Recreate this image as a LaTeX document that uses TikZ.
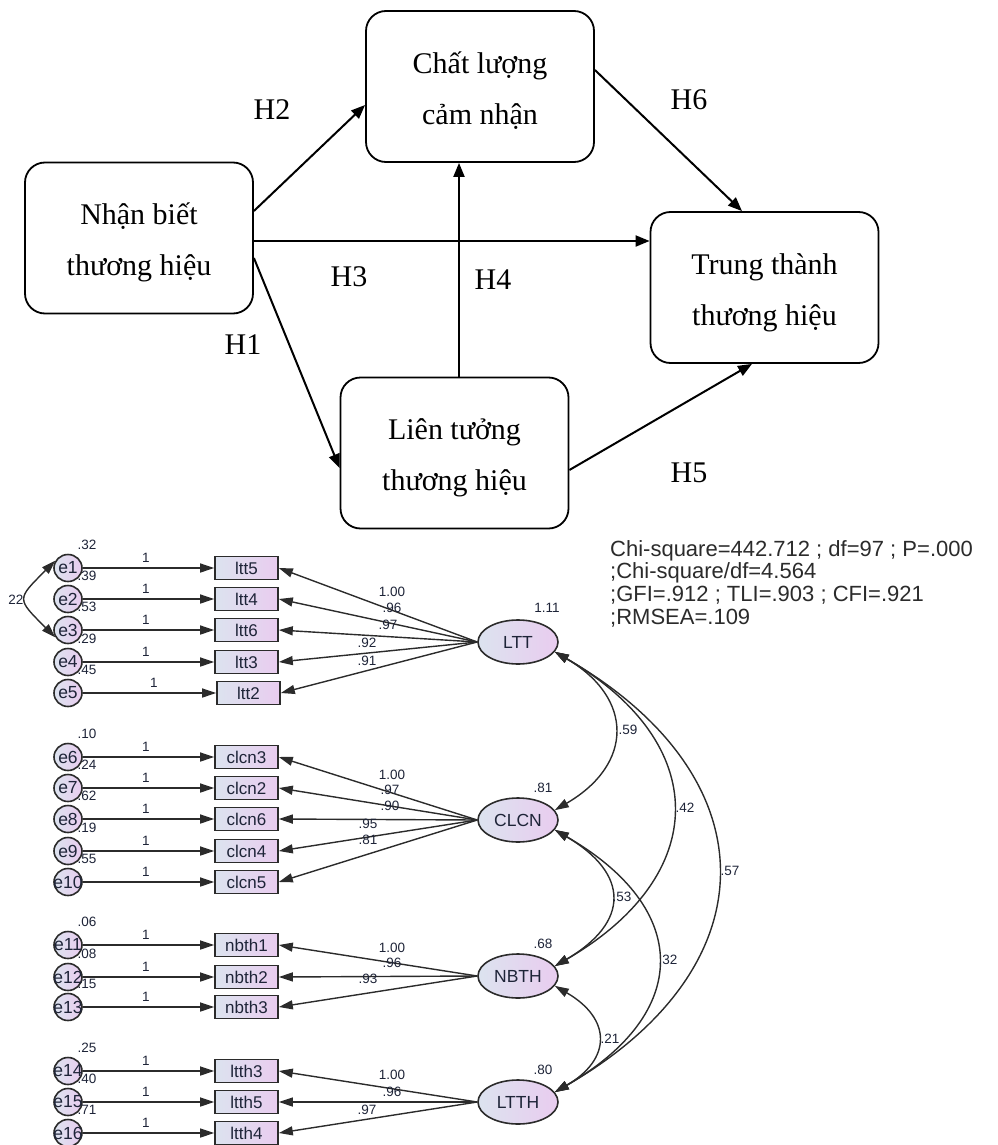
\documentclass[tikz,border=0pt]{standalone}
\usepackage{fontspec}
\setmainfont{Liberation Serif}
\newfontfamily\amosfont{Liberation Sans}
\usetikzlibrary{arrows.meta,shapes.geometric,calc}

\definecolor{edge}{HTML}{2B2B2B}
\definecolor{inkblue}{HTML}{1E2438}
\definecolor{shadeL}{HTML}{DCE3EF}
\definecolor{shadeR}{HTML}{E9CCEF}

% fixed line height for the two-line box captions
\newcommand\capstrut{\rule[-6pt]{0pt}{37pt}}

\begin{document}
\begin{tikzpicture}[x=1pt,y=-1pt,
  concept/.style={draw=black, line width=1.8pt, rounded corners=20pt,
    minimum width=228pt, minimum height=151pt, align=center,
    font=\fontsize{30}{51}\selectfont, inner sep=0pt},
  hyp/.style={line width=2pt, -{Triangle[length=14pt,width=11pt]}},
  hlabel/.style={font=\fontsize{30}{36}\selectfont, inner sep=0pt},
  errc/.style={ellipse, draw=edge, line width=1.6pt, minimum width=28pt,
    minimum height=27pt, inner sep=0pt, left color=shadeL, right color=shadeR,
    text=inkblue, font=\amosfont\fontsize{17.5}{17.5}\selectfont},
  obsbox/.style={rectangle, draw=edge, line width=1.6pt, minimum width=63pt,
    minimum height=23pt, inner sep=0pt, left color=shadeL, right color=shadeR,
    text=inkblue, font=\amosfont\fontsize{17}{17}\selectfont},
  latent/.style={ellipse, draw=edge, line width=1.6pt, minimum width=80pt,
    minimum height=44pt, inner sep=0pt, left color=shadeL, right color=shadeR,
    text=inkblue, font=\amosfont\fontsize{17.5}{17.5}\selectfont},
  loadarr/.style={draw=edge, line width=1.4pt, -{Triangle[length=14pt,width=9pt]}},
  covarr/.style={draw=edge, line width=1.4pt,
    {Triangle[length=14pt,width=9pt]}-{Triangle[length=14pt,width=9pt]}},
  estlbl/.style={font=\amosfont\fontsize{13.5}{13.5}\selectfont, inner sep=0pt, text=inkblue},
]
\useasboundingbox (0,0) rectangle (997,1145);

% ---------- conceptual model ----------
\node[concept] (nb) at (139,238)     {\capstrut Nhận biết\\\capstrut thương hiệu};
\node[concept] (cl) at (480,86.5)    {\capstrut Chất lượng\\\capstrut cảm nhận};
\node[concept] (tt) at (764.5,287.5) {\capstrut Trung thành\\\capstrut thương hiệu};
\node[concept] (lt) at (454.5,453)   {\capstrut Liên tưởng\\\capstrut thương hiệu};

\draw[hyp] ([yshift=27pt]nb.east) -- ([yshift=-18.5pt]cl.west);
\draw[hyp] ([yshift=-3pt]nb.east) -- ([yshift=46.5pt]tt.west);
\draw[hyp] ([yshift=-20pt]nb.east) -- ([yshift=-15pt]lt.west);
\draw[hyp] ([xshift=4.5pt]lt.north) -- ([xshift=-21pt]cl.south);
\draw[hyp] ([yshift=16.5pt]cl.east) -- ([xshift=-22.5pt]tt.north);
\draw[hyp] ([yshift=-17pt]lt.east) -- ([xshift=-12.5pt]tt.south);

\node[hlabel] (h2) at (272,110) {H2};
\node[hlabel] (h3) at (349,277) {H3};
\node[hlabel] (h1) at (243,345) {H1};
\node[hlabel] (h4) at (493,280) {H4};
\node[hlabel] (h6) at (689,100) {H6};
\node[hlabel] (h5) at (689,473) {H5};

% ---------- measurement model ----------
\foreach \i/\y/\bx/\lx/\lab/\var in {
   1/568/246.5/146/ltt5/.32, 2/599/246.5/146/ltt4/.39, 3/630/246.5/146/ltt6/.53,
   4/662/246.5/146/ltt3/.29, 5/693/248.5/154/ltt2/.45,
   6/757/246.5/146/clcn3/.10, 7/788/246.5/146/clcn2/.24, 8/819/246.5/146/clcn6/.62,
   9/851/246.5/146/clcn4/.19, 10/882/246.5/146/clcn5/.55,
   11/945/246.5/146/nbth1/.06, 12/977/246.5/146/nbth2/.08, 13/1007/246.5/146/nbth3/.15,
   14/1071/246.5/146/ltth3/.25, 15/1102/246.5/146/ltth5/.40, 16/1133/246.5/146/ltth4/.71}{
  \node[errc] (e\i) at (68,\y) {\makebox[0pt]{e\i}};
  \node[obsbox] (o\i) at (\bx,\y) {\lab};
  \draw[loadarr] (e\i) -- (o\i);
  \node[estlbl] (w\i) at (\lx,\y-10) {1};
  \node[estlbl] (v\i) at (87,\y-23) {\var};
}

\node[latent] (LTT)  at (518,642)  {LTT};
\node[latent] (CLCN) at (518,820)  {CLCN};
\node[latent] (NBTH) at (518,976)  {NBTH};
\node[latent] (LTTH) at (518,1102) {LTTH};

% loadings
\foreach \f/\o in {LTT/1,LTT/2,LTT/3,LTT/4,LTT/5,CLCN/6,CLCN/7,CLCN/8,CLCN/9,CLCN/10,
                   NBTH/11,NBTH/12,NBTH/13,LTTH/14,LTTH/15,LTTH/16}{
  \draw[loadarr] (\f.west) -- (o\o.east);
}
\foreach \x/\y/\t in {392/592/1.00, 392/608/.96, 388/625/.97, 367/643/.92, 367/661/.91,
                      392/775/1.00, 390/790/.97, 390/806/.90, 368/824/.95, 368/840/.81,
                      392/948/1.00, 392/963/.96, 368/979/.93,
                      392/1075/1.00, 392/1092/.96, 367/1110/.97}{
  \node[estlbl] at (\x,\y) {\t};
}

% factor variances
\node[estlbl] (vLTT)  at (547,608)  {1.11};
\node[estlbl] (vCLCN) at (543,788)  {.81};
\node[estlbl] (vNBTH) at (543,944)  {.68};
\node[estlbl] (vLTTH) at (543,1070) {.80};

% covariances
\draw[covarr] (e1.150) .. controls +(-39,39) and +(-39,-39) .. (e3.-150);
\draw[covarr] (LTT.-15) .. controls +(79,46) and +(79,-46) .. (CLCN.15);
\draw[covarr] (LTT.-15) .. controls +(157,91) and +(157,-91) .. (NBTH.15);
\draw[covarr] (LTT.-15) .. controls +(217,125) and +(217,-125) .. (LTTH.15);
\draw[covarr] (CLCN.-15) .. controls +(75,44) and +(75,-44) .. (NBTH.15);
\draw[covarr] (CLCN.-15) .. controls +(137,79) and +(137,-79) .. (LTTH.15);
\draw[covarr] (NBTH.-15) .. controls +(57,33) and +(57,-33) .. (LTTH.15);

\node[estlbl] (c13) at (16,600)  {22};
\node[estlbl] (c12) at (628,730) {.59};
\node[estlbl] (c13b) at (685,808) {.42};
\node[estlbl] (c14) at (730,871) {.57};
\node[estlbl] (c23) at (622,897) {.53};
\node[estlbl] (c24) at (668,960) {.32};
\node[estlbl] (c34) at (610,1039) {.21};

% fit statistics
\node[anchor=north west, align=left, inner sep=0pt, text=edge,
      font=\amosfont\fontsize{22}{22.7}\selectfont] (fit) at (610,540)
  {Chi-square=442.712 ; df=97 ; P=.000\\;Chi-square/df=4.564\\;GFI=.912 ; TLI=.903 ; CFI=.921\\;RMSEA=.109};
\end{tikzpicture}
\end{document}
